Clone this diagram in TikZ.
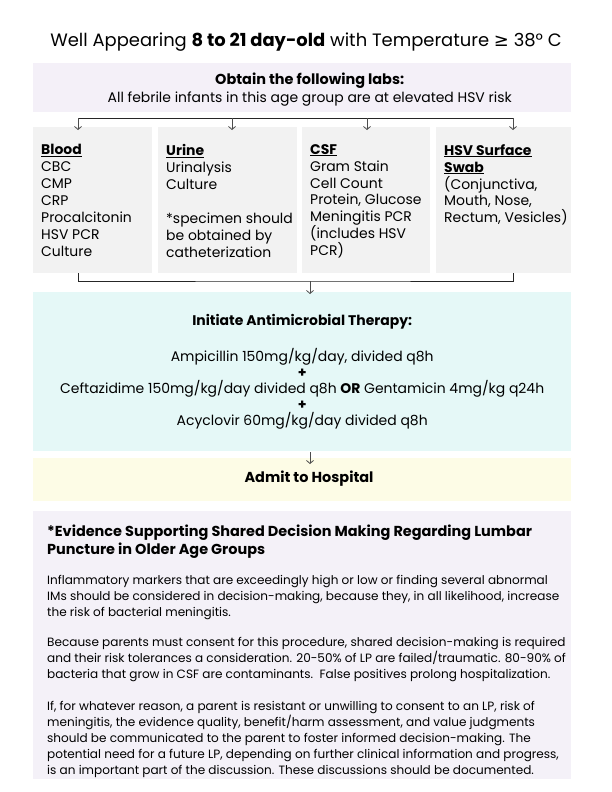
\documentclass[tikz,border=0pt]{standalone}
\usepackage{fontspec}
\setmainfont{Poppins}
\newfontfamily\symfont{DejaVu Sans}
\usetikzlibrary{arrows.meta,positioning}
\definecolor{labslilac}{HTML}{F4F0F8}
\definecolor{labgray}{HTML}{F2F2F2}
\definecolor{rxcyan}{HTML}{E5F8F7}
\definecolor{admityellow}{HTML}{FDFCE6}
\definecolor{notelilac}{HTML}{F4F1F8}
\tikzset{
  band/.style={inner sep=0pt,minimum width=538bp,anchor=north west,align=center},
  col/.style={fill=labgray,inner sep=0pt,anchor=north west,minimum height=146bp},
  coltext/.style={anchor=north west,inner sep=0pt,align=left,font=\fontsize{14}{17}\selectfont},
  para/.style={anchor=north west,inner sep=0pt,align=left,font=\fontsize{12.1}{16}\selectfont},
  link/.style={line width=0.8bp,draw=black!85},
  arr/.style={-{Straight Barb[length=3bp,width=7bp]},line width=0.8bp,draw=black!70},
}
\newcommand{\colhead}[1]{\textbf{\underline{#1}}}
\begin{document}
\begin{tikzpicture}[x=1bp,y=-1bp]
  \useasboundingbox (0,0) rectangle (612,792);
  \node[font=\fontsize{18}{20}\selectfont] (title) at (306,42) {Well Appearing \textbf{8 to 21 day-old} with Temperature {\symfont ≥} 38° C};
  \node[band,fill=labslilac,minimum height=49bp] (labs) at (33,63) {};
  \node[align=center,inner sep=0pt,font=\fontsize{14}{18}\selectfont,xshift=7.5bp,yshift=-2bp] (labst) at (labs.center) {{\bfseries\fontsize{14.5}{18}\selectfont Obtain the following labs:}\\All febrile infants in this age group are at elevated HSV risk};
  % the four lab columns
  \node[col,minimum width=119bp] (blood) at (33,127) {};
  \node[col,minimum width=139bp] (urine) at (158,127) {};
  \node[col,minimum width=128bp] (csf) at (302,127) {};
  \node[col,minimum width=135bp] (hsv) at (436,127) {};
  \node[coltext] (bloodt) at (41,144) {\colhead{Blood}\\CBC\\CMP\\CRP\\Procalcitonin\\HSV PCR\\Culture};
  \node[coltext] (urinet) at (166,144) {\colhead{Urine}\\Urinalysis\\Culture\\[17bp]*specimen should\\be obtained by\\catheterization};
  \node[coltext] (csft) at (310,144) {\colhead{CSF}\\Gram Stain\\Cell Count\\Protein, Glucose\\Meningitis PCR\\(includes HSV\\PCR)};
  \node[coltext] (hsvt) at (444,144) {\colhead{HSV Surface}\\\colhead{Swab}\\(Conjunctiva,\\Mouth, Nose,\\Rectum, Vesicles)};
  \node[band,fill=rxcyan,minimum height=159bp,font=\fontsize{14}{16}\selectfont] (rx) at (33,292) {\textbf{Initiate Antimicrobial Therapy:}\\[19bp]Ampicillin 150mg/kg/day, divided q8h\\\textbf{+}\\Ceftazidime 150mg/kg/day divided q8h \textbf{OR} Gentamicin 4mg/kg q24h\\\textbf{+}\\Acyclovir 60mg/kg/day divided q8h};
  \node[band,fill=admityellow,minimum height=43bp] (admit) at (33,458) {};
  \node[font=\bfseries\fontsize{14.5}{15}\selectfont] (admitt) at (309,479) {Admit to Hospital};
  % evidence note
  \node[band,fill=notelilac,minimum height=268bp] (note) at (33,511) {};
  \node[para,font=\bfseries\fontsize{14.5}{18}\selectfont] (notehead) at (47,525) {*Evidence Supporting Shared Decision Making Regarding Lumbar\\Puncture in Older Age Groups};
  \node[para] (para1) at (47,575) {Inflammatory markers that are exceedingly high or low or finding several abnormal\\IMs should be considered in decision-making, because they, in all likelihood, increase\\the risk of bacterial meningitis.};
  \node[para] (para2) at (47,637) {Because parents must consent for this procedure, shared decision-making is required\\and their risk tolerances a consideration. 20-50\% of LP are failed/traumatic. 80-90\% of\\bacteria that grow in CSF are contaminants.\ \ False positives prolong hospitalization.};
  \node[para] (para3) at (47,701) {If, for whatever reason, a parent is resistant or unwilling to consent to an LP, risk of\\meningitis, the evidence quality, benefit/harm assessment, and value judgments\\should be communicated to the parent to foster informed decision-making. The\\potential need for a future LP, depending on further clinical information and progress,\\is an important part of the discussion. These discussions should be documented.};
  % connectors
  \coordinate (busL) at (78,118);
  \coordinate (busR) at (513,118);
  \draw[link] (busL) -- (busR);
  \foreach \n/\x in {blood/78,urine/232,csf/367,hsv/513} {
    \coordinate (\n-in) at (\x,130);
    \draw[arr] (\n-in |- busL) -- (\n-in);
  }
  \coordinate (blood-out) at (78,273);
  \coordinate (hsv-out) at (513,273);
  \coordinate (merge) at (310,281);
  \coordinate (rx-in) at (310,294);
  \draw[link] (blood-out) |- (merge) -| (hsv-out);
  \draw[arr] (merge) -- (rx-in);
  \coordinate (rx-out) at (310,452);
  \coordinate (admit-in) at (310,464);
  \draw[arr] (rx-out) -- (admit-in);
\end{tikzpicture}
\end{document}
